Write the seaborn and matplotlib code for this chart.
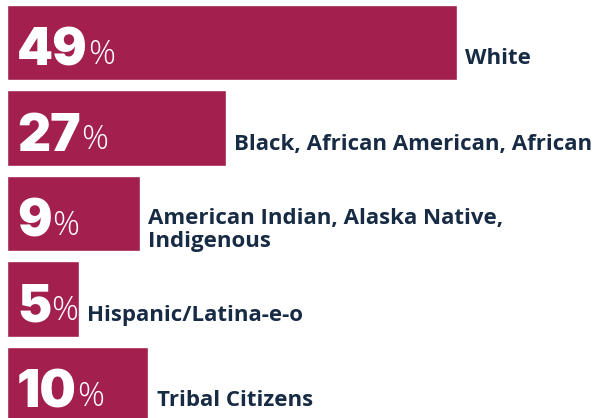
import matplotlib
matplotlib.use("Agg")
import matplotlib.pyplot as plt
import seaborn as sns

# shares shown on the chart
groups = ["White", "Black, African American, African",
          "American Indian, Alaska Native,\nIndigenous",
          "Hispanic/Latina-e-o", "Tribal Citizens"]
shares = [49, 27, 9, 5, 10]
# bar lengths as drawn in the infographic (not to scale with the shares)
bar_len = [49, 23.8, 14.5, 7.8, 15.4]

bar_color = "#A31F4E"
text_color = "#182B45"

sns.set_theme(style="white")
plt.rcParams["font.family"] = ["Open Sans", "DejaVu Sans"]

fig = plt.figure(figsize=(5.97, 4.18), dpi=100)
ax = fig.add_axes([0, 0, 1, 1])

sns.barplot(x=bar_len, y=list(range(len(groups))), orient="h",
            color=bar_color, width=0.88, saturation=1, ax=ax)

for i, (g, s, L) in enumerate(zip(groups, shares, bar_len)):
    num = ax.text(1.1, i + 0.265, str(s), color="white", fontsize=37,
                  fontweight="black", family=["Inter", "DejaVu Sans"],
                  va="baseline", ha="left")
    ax.annotate("%", xy=(1, 0), xycoords=num, xytext=(0, 9),
                textcoords="offset points", color="white", fontsize=24,
                fontweight="light", family=["Open Sans", "DejaVu Sans"],
                va="baseline", ha="left")
    ax.text(L + 0.9, i + 0.19, g, color=text_color, fontsize=16,
            fontweight="bold", va="center", ha="left", linespacing=1.1)

ax.set_xlim(-0.762, 64.24)
ax.set_ylim(4.392, -0.497)
ax.axis("off")

fig.savefig("out.png", dpi=100)
